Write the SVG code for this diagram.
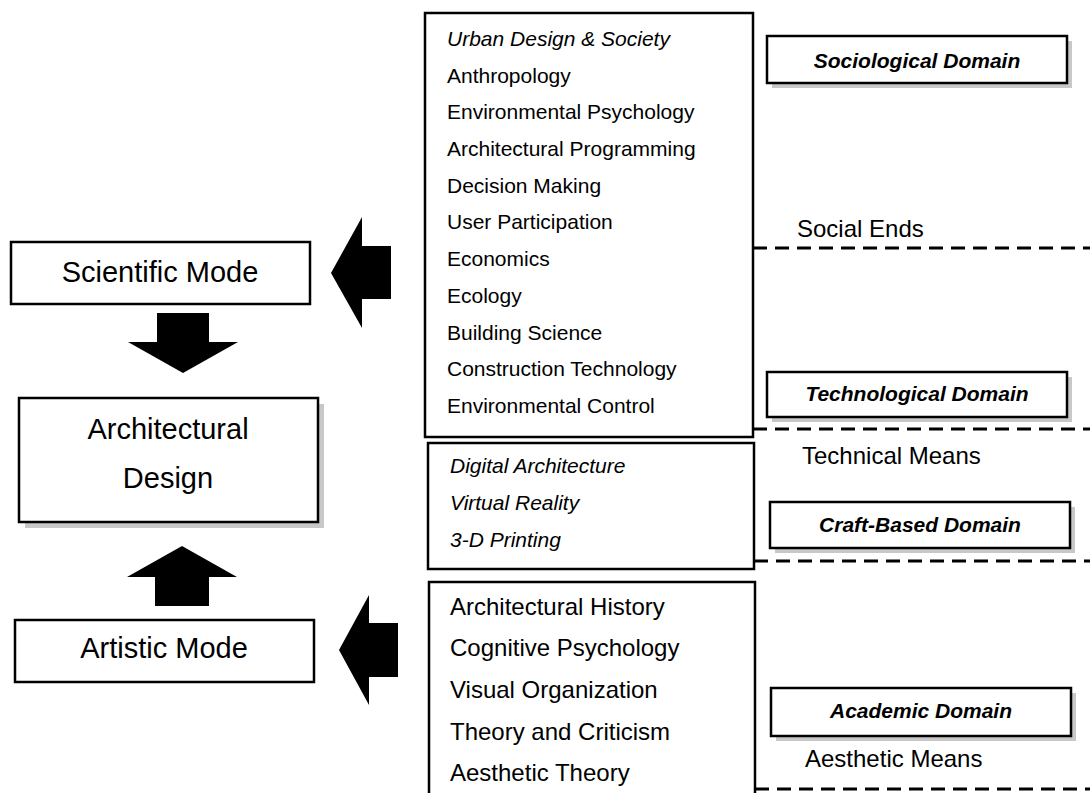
<svg xmlns="http://www.w3.org/2000/svg" width="1090" height="793" viewBox="0 0 1090 793">
<style>
.box{fill:#fff;stroke:#000;stroke-width:2.5}
.sh{fill:#c8c8c8}
.t{font-family:"Liberation Sans",Arial,sans-serif;fill:#000}
.big{font-size:29px}
.li{font-size:21px}
.li2{font-size:24px}
.it{font-style:italic}
.dom{font-size:21px;font-weight:bold;font-style:italic}
.lab{font-size:24px}
.dash{stroke:#000;stroke-width:3;stroke-dasharray:14 8;fill:none}
.arr{fill:#000}
</style>
<rect width="1090" height="793" fill="#fff"/>
<g id="scientific-mode">
<rect class="box" x="11" y="242" width="299" height="62"/>
<text class="t big" x="160" y="282" text-anchor="middle">Scientific Mode</text>
</g>
<g id="architectural-design">
<rect class="sh" x="25" y="404" width="299" height="124"/>
<rect class="box" x="19" y="398" width="299" height="124"/>
<text class="t big" x="168" y="439" text-anchor="middle">Architectural</text>
<text class="t big" x="168" y="488" text-anchor="middle">Design</text>
</g>
<g id="artistic-mode">
<rect class="box" x="15" y="620" width="299" height="62"/>
<text class="t big" x="164" y="658" text-anchor="middle">Artistic Mode</text>
</g>
<g id="sociological-list">
<rect class="box" x="425" y="13" width="328" height="424"/>
<text class="t li it" x="447" y="46">Urban Design &amp; Society</text>
<text class="t li" x="447" y="82.5">Anthropology</text>
<text class="t li" x="447" y="119">Environmental Psychology</text>
<text class="t li" x="447" y="156">Architectural Programming</text>
<text class="t li" x="447" y="192.5">Decision Making</text>
<text class="t li" x="447" y="229">User Participation</text>
<text class="t li" x="447" y="266">Economics</text>
<text class="t li" x="447" y="303">Ecology</text>
<text class="t li" x="447" y="339.5">Building Science</text>
<text class="t li" x="447" y="376">Construction Technology</text>
<text class="t li" x="447" y="413">Environmental Control</text>
</g>
<g id="craft-list">
<rect class="box" x="428" y="443" width="326" height="126"/>
<text class="t li it" x="450" y="473">Digital Architecture</text>
<text class="t li it" x="450" y="510">Virtual Reality</text>
<text class="t li it" x="450" y="547">3-D Printing</text>
</g>
<g id="academic-list">
<rect class="box" x="429" y="582" width="326" height="215"/>
<text class="t li2" x="450" y="614.5">Architectural History</text>
<text class="t li2" x="450" y="656">Cognitive Psychology</text>
<text class="t li2" x="450" y="698">Visual Organization</text>
<text class="t li2" x="450" y="739.5">Theory and Criticism</text>
<text class="t li2" x="450" y="781">Aesthetic Theory</text>
</g>
<g id="sociological-domain">
<rect class="sh" x="772" y="41" width="300" height="47"/>
<rect class="box" x="767" y="36" width="300" height="47"/>
<text class="t dom" x="917" y="68" text-anchor="middle">Sociological Domain</text>
</g>
<g id="technological-domain">
<rect class="sh" x="772" y="377" width="300" height="45"/>
<rect class="box" x="767" y="372" width="300" height="45"/>
<text class="t dom" x="917" y="401" text-anchor="middle">Technological Domain</text>
</g>
<g id="craft-domain">
<rect class="sh" x="775" y="507" width="300" height="46"/>
<rect class="box" x="770" y="502" width="300" height="46"/>
<text class="t dom" x="920" y="532" text-anchor="middle">Craft-Based Domain</text>
</g>
<g id="academic-domain">
<rect class="sh" x="776" y="693" width="300" height="48"/>
<rect class="box" x="771" y="688" width="300" height="48"/>
<text class="t dom" x="921" y="718" text-anchor="middle">Academic Domain</text>
</g>
<g id="labels">
<text class="t lab" x="797" y="237">Social Ends</text>
<text class="t lab" x="802" y="464">Technical Means</text>
<text class="t lab" x="805" y="767">Aesthetic Means</text>
</g>
<g id="connectors">
<line class="dash" x1="753" y1="248" x2="1090" y2="248"/>
<line class="dash" x1="753" y1="429" x2="1090" y2="429"/>
<line class="dash" x1="754" y1="561" x2="1090" y2="561"/>
<line class="dash" x1="755" y1="789" x2="1090" y2="789"/>
<polygon class="arr" points="157,313 209,313 209,342 238,342 183,373 128,342 157,342"/>
<polygon class="arr" points="155,606 209,606 209,577 237,577 182,546 127,577 155,577"/>
<polygon class="arr" points="391,246 391,299 362,299 362,328 331,273 362,217 362,246"/>
<polygon class="arr" points="398,623 398,677 369,677 369,705 339,650 369,595 369,623"/>
</g>
</svg>
